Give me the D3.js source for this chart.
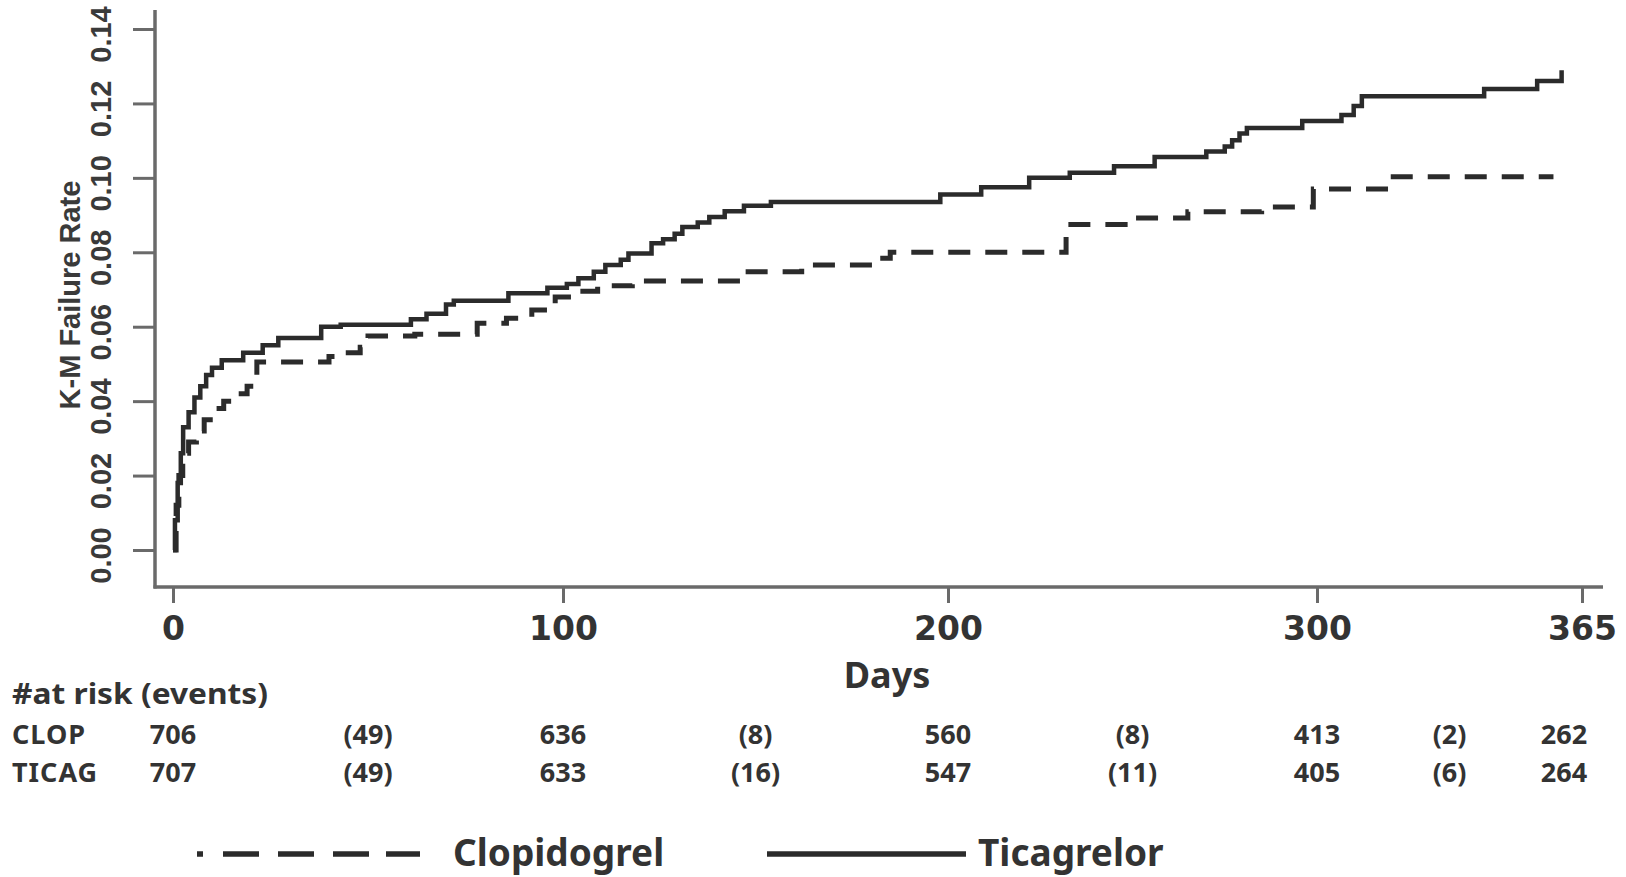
<!DOCTYPE html>
<html>
<head>
<meta charset="utf-8">
<script src="https://cdn.jsdelivr.net/npm/d3@7/dist/d3.min.js"></script>
<style>
  html, body { margin: 0; padding: 0; background: #ffffff; }
  svg { display: block; }
</style>
</head>
<body>
<script>
// Kaplan-Meier failure curves: [day, cumulative failure rate after the event]
const clopidogrel = [
  [0, 0.000], [0.8, 0.012], [1.5, 0.020], [2.5, 0.026], [4, 0.029], [6, 0.032],
  [8, 0.035], [10.5, 0.038], [13, 0.040], [16, 0.042], [19, 0.044], [21.5, 0.0505],
  [40, 0.052], [44, 0.053], [48, 0.0545], [50, 0.0575], [62, 0.058], [78, 0.0609],
  [85.5, 0.0623], [92, 0.0645], [98, 0.068], [103, 0.0695], [109, 0.071], [118, 0.0723],
  [147, 0.0748], [162, 0.0766], [182, 0.0784], [185, 0.080], [232, 0.0875], [248, 0.0892],
  [265, 0.0909], [285, 0.0922], [299, 0.097], [318, 0.1003]
];
const clopidogrelEnd = 358;

const ticagrelor = [
  [0, 0.000], [0.5, 0.008], [1.2, 0.018], [2, 0.026], [2.6, 0.033], [4, 0.037],
  [5.5, 0.041], [7, 0.044], [8.5, 0.047], [10, 0.049], [12.5, 0.051], [18, 0.053],
  [23, 0.055], [27, 0.057], [38, 0.060], [43, 0.0605], [61, 0.062], [65, 0.0635],
  [70, 0.066], [72, 0.067], [86, 0.069], [96, 0.0705], [101, 0.0715], [104, 0.073],
  [108, 0.0748], [111, 0.0766], [115, 0.078], [117, 0.0797], [123, 0.0824], [126, 0.0835],
  [129, 0.085], [131, 0.0868], [135, 0.088], [138, 0.0895], [142, 0.091], [147, 0.0925],
  [154, 0.0935], [198, 0.0955], [209, 0.0975], [222, 0.1000], [233, 0.1014], [245, 0.1031],
  [256, 0.1056], [270, 0.1071], [275, 0.1084], [277, 0.1101], [279, 0.1119], [281, 0.1134],
  [296, 0.1153], [306, 0.1169], [309, 0.1193], [311, 0.1219], [341, 0.1239], [354, 0.1260],
  [360, 0.1289]
];
const ticagrelorEnd = 360;

// Axis ticks
const xTicks = [0, 100, 200, 300, 365];
const yTicks = [0, 0.02, 0.04, 0.06, 0.08, 0.10, 0.12, 0.14];

// Number at risk and (events) table
const riskHeader = "#at risk (events)";
const riskGroups = ["CLOP", "TICAG"];
const riskDays = [0, 50, 100, 150, 200, 250, 300, 332.5, 365];
const riskClop = ["706", "(49)", "636", "(8)", "560", "(8)", "413", "(2)", "262"];
const riskTicag = ["707", "(49)", "633", "(16)", "547", "(11)", "405", "(6)", "264"];

const legendLabels = ["Clopidogrel", "Ticagrelor"];

const W = 1626, H = 877;
const ink = "#2b2b2b";
const axisInk = "#6a6a6a";
const sansNarrow = "'Liberation Sans', Arial, sans-serif";
const tableFont = "'Noto Sans', 'Open Sans', sans-serif";

const svg = d3.select("body").append("svg")
  .attr("width", W).attr("height", H)
  .attr("viewBox", `0 0 ${W} ${H}`);

// Day axis is drawn with separate spans between labelled ticks
const x = d3.scaleLinear().domain(xTicks).range([173, 563, 948, 1317, 1582]);
const y = d3.scaleLinear().domain([0, 0.14]).range([550, 29]);

const xAxisY = 587, yAxisX = 155;

// Axis frame lines
svg.append("line").attr("x1", yAxisX).attr("x2", yAxisX).attr("y1", 10).attr("y2", xAxisY + 1.5)
  .attr("stroke", axisInk).attr("stroke-width", 3.5);
svg.append("line").attr("x1", yAxisX - 1.5).attr("x2", 1603).attr("y1", xAxisY).attr("y2", xAxisY)
  .attr("stroke", axisInk).attr("stroke-width", 3.5);

// Y axis
const yAxis = svg.append("g").attr("transform", `translate(${yAxisX},0)`)
  .call(d3.axisLeft(y).tickValues(yTicks).tickSize(22).tickFormat(d3.format(".2f")));
yAxis.select(".domain").remove();
yAxis.selectAll(".tick line").attr("stroke", axisInk).attr("stroke-width", 3);
yAxis.selectAll(".tick text")
  .attr("x", null).attr("dy", null)
  .attr("transform", "translate(-44,5) rotate(-90)")
  .attr("text-anchor", "middle")
  .attr("fill", "#3a3a3a")
  .style("font-family", sansNarrow)
  .style("font-weight", "bold")
  .style("font-size", "29px");

// X axis
const xAxis = svg.append("g").attr("transform", `translate(0,${xAxisY})`)
  .call(d3.axisBottom(x).tickValues(xTicks).tickSize(16).tickPadding(0).tickFormat(d3.format("d")));
xAxis.select(".domain").remove();
xAxis.selectAll(".tick line").attr("stroke", axisInk).attr("stroke-width", 3);
xAxis.selectAll(".tick text")
  .attr("y", 53).attr("dy", null)
  .attr("fill", "#333")
  .style("font-family", "'DejaVu Sans', Verdana, sans-serif")
  .style("font-weight", "bold")
  .style("font-size", "33px");

// Axis titles
svg.append("text")
  .attr("transform", "translate(80,295) rotate(-90)")
  .attr("text-anchor", "middle")
  .attr("fill", "#3a3a3a")
  .style("font-family", sansNarrow)
  .style("font-weight", "bold")
  .style("font-size", "29px")
  .text("K-M Failure Rate");

svg.append("text")
  .attr("x", 887).attr("y", 688)
  .attr("text-anchor", "middle")
  .attr("fill", "#333")
  .style("font-family", tableFont)
  .style("font-weight", "bold")
  .style("font-size", "36px")
  .text("Days");

// Curves
const line = d3.line()
  .x(d => x(d[0]))
  .y(d => y(d[1]))
  .curve(d3.curveStepAfter);

function withEnd(series, endDay) {
  return series.concat([[endDay, series[series.length - 1][1]]]);
}

svg.append("path")
  .datum(withEnd(clopidogrel, clopidogrelEnd))
  .attr("fill", "none")
  .attr("stroke", ink)
  .attr("stroke-width", 5)
  .attr("stroke-dasharray", "22,15")
  .attr("d", line);

svg.append("path")
  .datum(withEnd(ticagrelor, ticagrelorEnd))
  .attr("fill", "none")
  .attr("stroke", ink)
  .attr("stroke-width", 4.5)
  .attr("d", line);

// Risk table
svg.append("text")
  .attr("x", 12).attr("y", 704)
  .attr("fill", "#333")
  .style("font-family", tableFont)
  .style("font-weight", "bold")
  .style("font-size", "28px")
  .attr("textLength", 256)
  .attr("lengthAdjust", "spacingAndGlyphs")
  .text(riskHeader);

const rows = [riskClop, riskTicag];
const rowY = [744, 782];
riskGroups.forEach((g, i) => {
  svg.append("text")
    .attr("x", 12).attr("y", rowY[i])
    .attr("fill", "#333")
    .style("font-family", tableFont)
    .style("font-weight", "bold")
    .style("font-size", "27px")
    .style("letter-spacing", "1px")
    .text(g);
  svg.append("g").selectAll("text")
    .data(rows[i])
    .join("text")
    .attr("x", (d, j) => x(riskDays[j]) - (j === riskDays.length - 1 ? 18 : 0))
    .attr("y", rowY[i])
    .attr("text-anchor", "middle")
    .attr("fill", "#333")
    .style("font-family", tableFont)
    .style("font-weight", "bold")
    .style("font-size", "27px")
    .text(d => d);
});

// Legend
const legY = 854;
svg.append("line")
  .attr("x1", 197).attr("x2", 420).attr("y1", legY).attr("y2", legY)
  .attr("stroke", ink).attr("stroke-width", 5.5)
  .attr("stroke-dasharray", "6,20,36,19,36,19,36,17,36");
svg.append("text")
  .attr("x", 453).attr("y", 866)
  .attr("fill", "#333")
  .style("font-family", tableFont)
  .style("font-weight", "bold")
  .style("font-size", "37px")
  .text(legendLabels[0]);

svg.append("line")
  .attr("x1", 767).attr("x2", 966).attr("y1", legY).attr("y2", legY)
  .attr("stroke", ink).attr("stroke-width", 5.5);
svg.append("text")
  .attr("x", 978).attr("y", 866)
  .attr("fill", "#333")
  .style("font-family", tableFont)
  .style("font-weight", "bold")
  .style("font-size", "37px")
  .text(legendLabels[1]);
</script>
</body>
</html>
